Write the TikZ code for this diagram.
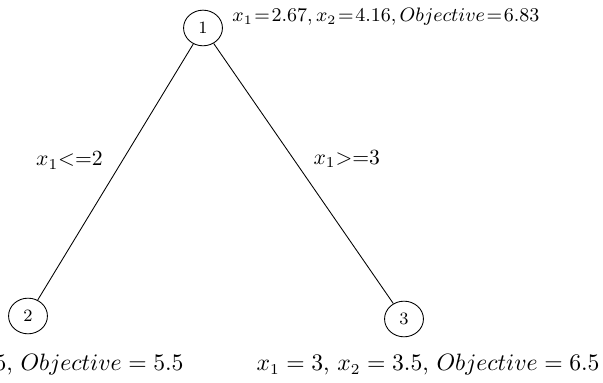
\documentclass[tikz,border=0pt]{standalone}
\usepackage{tikz}
\usetikzlibrary{shapes.geometric, positioning}

\begin{document}
\begin{tikzpicture}[
  x=0.4627pt, y=-0.4627pt,
  bbnode/.style={ellipse, draw, thin, minimum width=18pt, minimum height=16.5pt,
                 inner sep=0pt, font=\footnotesize},
  branch/.style={thin},
  cut/.style={inner sep=0pt, font=\fontsize{9.6}{11}\selectfont},
  result/.style={inner sep=0pt, font=\fontsize{10.7}{13}\selectfont},
]
  \useasboundingbox (0,0) rectangle (603,383);

  % tree nodes
  \node[bbnode] (n1) at (203,28)  {1};
  \node[bbnode] (n2) at (28,316)  {2};
  \node[bbnode] (n3) at (404,319) {3};

  % LP solutions
  \node[inner sep=0pt, anchor=base west, font=\small] (s1) at (232,22)
    {$x_1\mkern1.5mu{=}\mkern1.5mu2.67, x_2\mkern1.5mu{=}\mkern1.5mu4.16, Objective\mkern1.5mu{=}\mkern1.5mu6.83$};
  \node[result, anchor=base east] (s2) at (184,371)
    {$x_1 = 2$, $x_2 = 3.5$, $Objective = 5.5$};
  \node[result, anchor=base east] (s3) at (600,371)
    {$x_1 = 3$, $x_2 = 3.5$, $Objective = 6.5$};

  % branches
  \draw[branch] (n1) -- node[cut, pos=0.455, left=9pt] {$x_1{<}{=}2$} (n2);
  \draw[branch] (n1) -- node[cut, pos=0.445, right=9pt] {$x_1{>}{=}3$} (n3);
\end{tikzpicture}
\end{document}
